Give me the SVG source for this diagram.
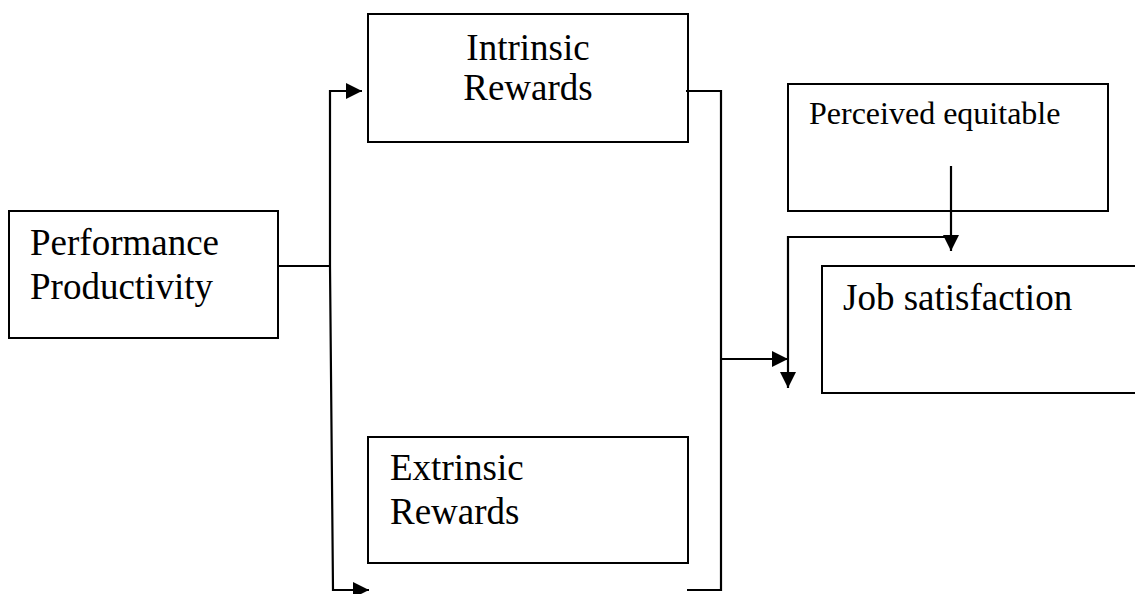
<svg xmlns="http://www.w3.org/2000/svg" width="1135" height="594" viewBox="0 0 1135 594">
<style>
.box{fill:#fff;stroke:#000;stroke-width:2}
.t{font-family:"Liberation Serif","Times New Roman",serif;font-size:37px;fill:#000}
.s{font-size:32px}
.c{fill:none;stroke:#000;stroke-width:2.2}
</style>
<defs>
<marker id="ah" markerUnits="userSpaceOnUse" markerWidth="18" markerHeight="18" viewBox="0 0 18 18" refX="16" refY="9" orient="auto">
<path d="M0,1 L16,9 L0,17 Z" fill="#000"/>
</marker>
</defs>
<rect width="1135" height="594" fill="#fff"/>
<g id="performance">
<rect class="box" x="9" y="211" width="269" height="127"/>
<text class="t" x="30" y="255">Performance</text>
<text class="t" x="30" y="299">Productivity</text>
</g>
<g id="intrinsic">
<rect class="box" x="368" y="14" width="320" height="128"/>
<text class="t" x="528" y="60" text-anchor="middle">Intrinsic</text>
<text class="t" x="528" y="100" text-anchor="middle">Rewards</text>
</g>
<g id="extrinsic">
<rect class="box" x="368" y="437" width="320" height="126"/>
<text class="t" x="390" y="480">Extrinsic</text>
<text class="t" x="390" y="524">Rewards</text>
</g>
<g id="perceived">
<rect class="box" x="788" y="84" width="320" height="127"/>
<text class="t s" x="809" y="124">Perceived equitable</text>
</g>
<g id="job">
<rect class="box" x="822" y="266" width="330" height="127"/>
<text class="t" x="843" y="310">Job satisfaction</text>
</g>
<g id="connectors">
<path class="c" d="M278,266 H330"/>
<path class="c" d="M330,266 V91 H362" marker-end="url(#ah)"/>
<path class="c" d="M330,266 L333,590 H369" marker-end="url(#ah)"/>
<path class="c" d="M686,91 H721 V590 H687"/>
<path class="c" d="M721,359 H788" marker-end="url(#ah)"/>
<path class="c" d="M951,237 H788 V388" marker-end="url(#ah)"/>
<path class="c" d="M951,166 V251" marker-end="url(#ah)"/>
</g>
</svg>
